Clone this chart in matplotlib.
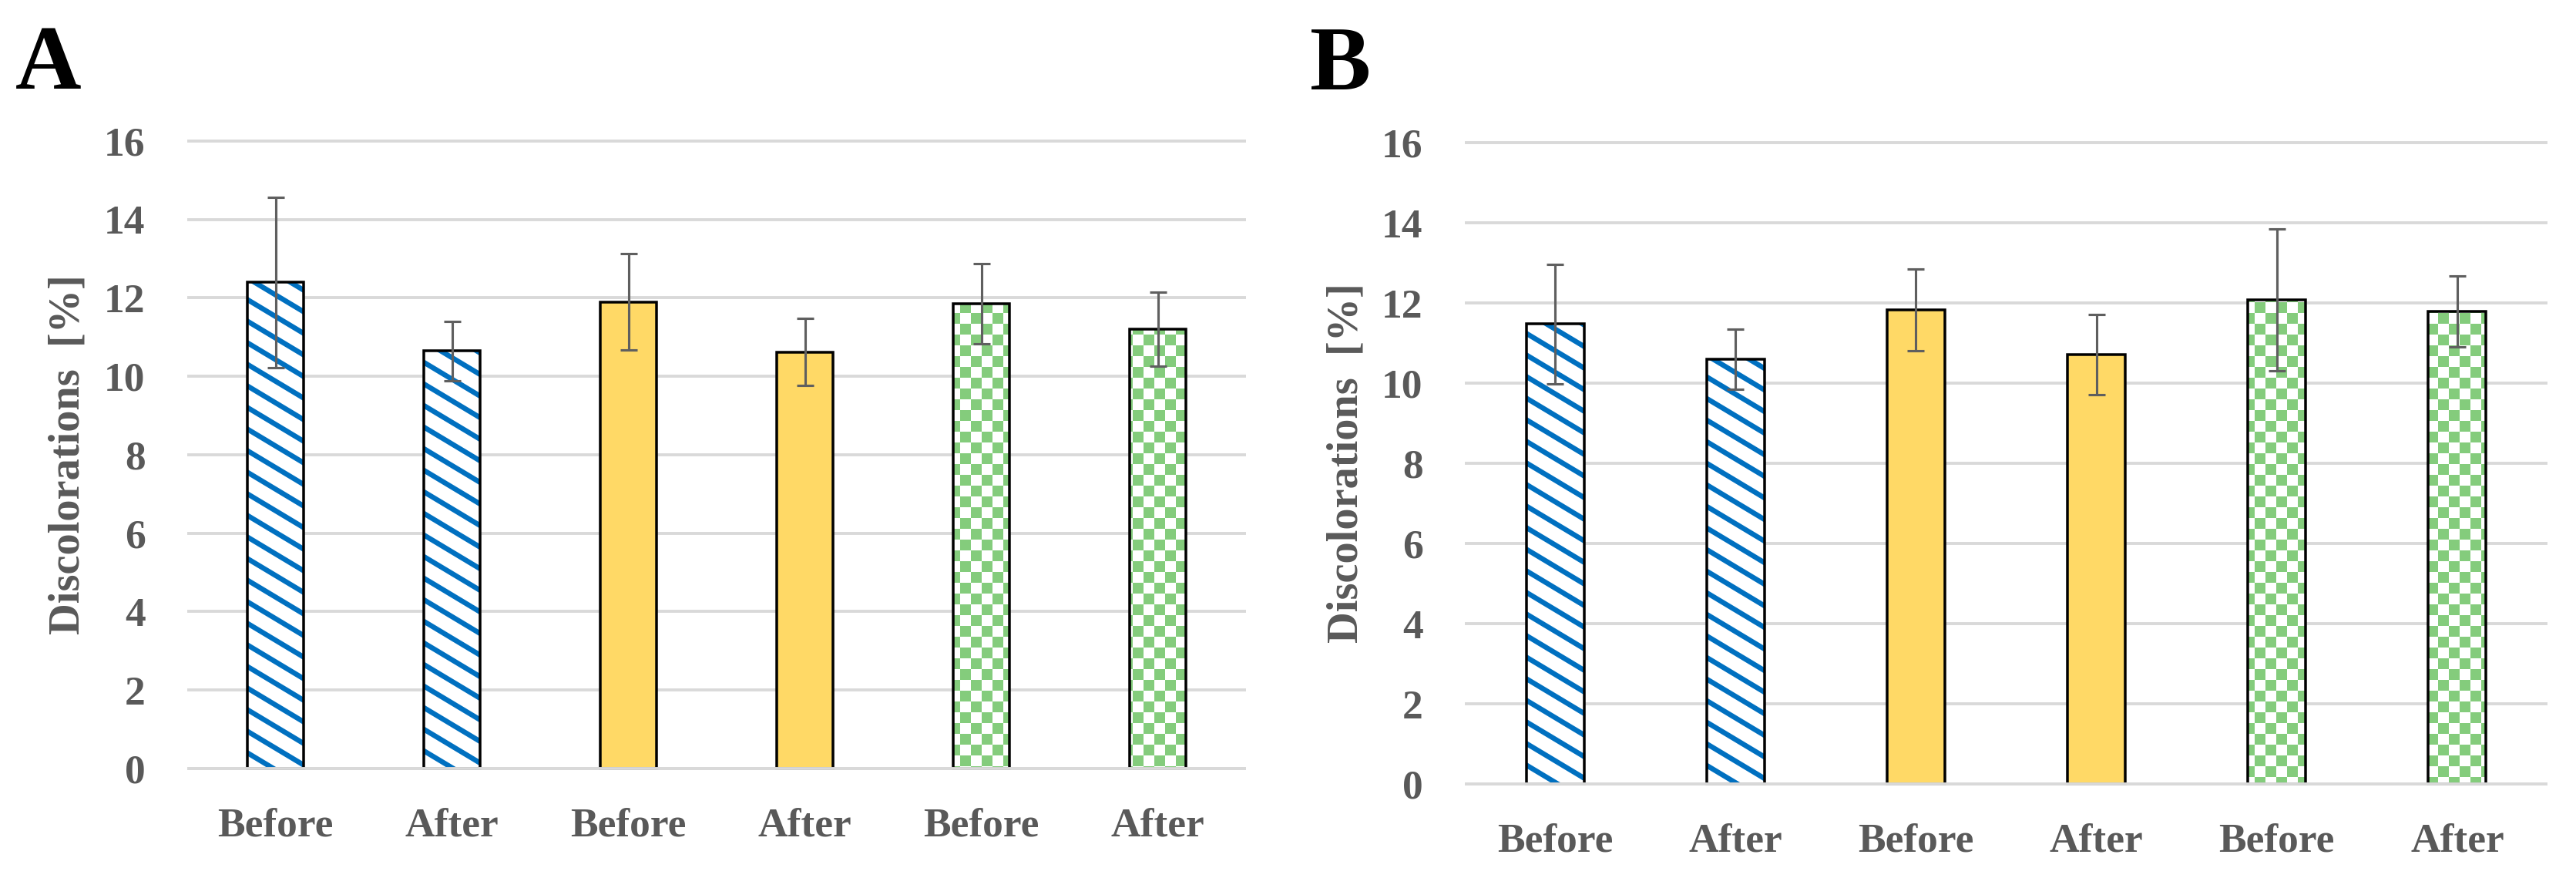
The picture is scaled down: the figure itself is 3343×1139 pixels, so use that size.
import warnings
warnings.filterwarnings("ignore")
import numpy as np
import matplotlib
matplotlib.use("Agg")
import matplotlib.pyplot as plt
import matplotlib.hatch as mhatch
from matplotlib.path import Path

# ---------------- data ----------------
categories = ["Before", "After", "Before", "After", "Before", "After"]
a_means = [12.40, 10.65, 11.90, 10.62, 11.86, 11.20]
a_errors = [2.17, 0.76, 1.23, 0.86, 1.02, 0.94]
b_means = [11.48, 10.60, 11.83, 10.72, 12.08, 11.79]
b_errors = [1.49, 0.75, 1.02, 1.00, 1.77, 0.88]
y_ticks = [0, 2, 4, 6, 8, 10, 12, 14, 16]
panel_labels = ["A", "B"]
y_label = "Discolorations  [%]"

# ---------------- styles ----------------
DPI = 140
W, H = 3343, 1139
HATCH_LW = 3.4          # points
STRIPE_ROWS = 5         # stripes per hatch tile (vertical)
STRIPE_COLS = 3         # stripes per hatch tile (horizontal)
CHECK_N = 10            # checker cells per hatch tile

BLUE = "#0070C0"
YELLOW = "#FFD966"
GREEN = "#84CC7C"
GRAY_TXT = "#595959"
GRID = "#D9D9D9"
ERR = "#5F5F5F"

bar_styles = [("S", BLUE), ("S", BLUE), (None, YELLOW), (None, YELLOW),
              ("C", GREEN), ("C", GREEN)]

plt.rcParams["font.family"] = ["Liberation Serif", "DejaVu Serif"]
plt.rcParams["font.weight"] = "bold"
plt.rcParams["axes.labelweight"] = "bold"
plt.rcParams["hatch.linewidth"] = HATCH_LW


class SlantStripeHatch(mhatch.HatchPatternBase):
    def __init__(self, hatch, density):
        if hatch is not None and "S" in hatch:
            self.ks = list(range(-1, STRIPE_ROWS + STRIPE_COLS + 2))
        else:
            self.ks = []
        self.num_vertices = 2 * len(self.ks)

    def set_vertices_and_codes(self, vertices, codes):
        s = STRIPE_COLS / STRIPE_ROWS
        x0, x1 = -0.2, 1.2
        for i, k in enumerate(self.ks):
            c = k / STRIPE_ROWS
            vertices[2 * i] = (x0, c - s * x0)
            vertices[2 * i + 1] = (x1, c - s * x1)
            codes[2 * i] = Path.MOVETO
            codes[2 * i + 1] = Path.LINETO


class CheckerHatch(mhatch.HatchPatternBase):
    def __init__(self, hatch, density):
        if hatch is not None and "C" in hatch:
            self.cells = [(i, j) for i in range(CHECK_N) for j in range(CHECK_N)
                          if (i + j) % 2 == 0]
        else:
            self.cells = []
        self.num_vertices = 5 * len(self.cells)

    def set_vertices_and_codes(self, vertices, codes):
        cell = 1.0 / CHECK_N
        inset = HATCH_LW / 144.0
        for n, (i, j) in enumerate(self.cells):
            xa, xb = i * cell + inset, (i + 1) * cell - inset
            ya, yb = j * cell + inset, (j + 1) * cell - inset
            vertices[5 * n:5 * n + 5] = [(xa, ya), (xb, ya), (xb, yb), (xa, yb), (xa, ya)]
            codes[5 * n:5 * n + 5] = [Path.MOVETO, Path.LINETO, Path.LINETO,
                                      Path.LINETO, Path.CLOSEPOLY]


mhatch._hatch_types.append(SlantStripeHatch)
mhatch._hatch_types.append(CheckerHatch)

fig = plt.figure(figsize=((W + 0.01) / DPI, (H + 0.01) / DPI), dpi=DPI)
fig.patch.set_facecolor("white")


def place(ax, left, right, y0px, y16px, ymin=-0.1, ymax=16.1):
    per = (y0px - y16px) / 16.0
    top_px = y16px - (ymax - 16) * per
    bot_px = y0px + (0 - ymin) * per
    ax.set_position([left / W, 1 - bot_px / H, (right - left) / W, (bot_px - top_px) / H])
    ax.set_ylim(ymin, ymax)


def draw_panel(ax, means, errors, label_x):
    x = np.arange(len(categories))
    width = 0.32
    for xi, m, (hatch, col) in zip(x, means, bar_styles):
        if hatch is None:
            ax.bar(xi, m, width, color=col, edgecolor=col, linewidth=0, zorder=2)
        else:
            ax.bar(xi, m, width, color="white", edgecolor=col, hatch=hatch,
                   linewidth=0, zorder=2)
    ax.bar(x, means, width, fill=False, edgecolor="black", linewidth=1.8, zorder=2.2)
    ax.axhline(0, color=GRID, linewidth=2.0, zorder=2.5)
    ax.errorbar(x, means, yerr=errors, fmt="none", ecolor=ERR, elinewidth=1.6,
                capsize=5.7, capthick=1.6, zorder=4)
    ax.set_xlim(-0.5, len(categories) - 0.5)
    ax.set_yticks(y_ticks)
    ax.set_xticks(x, categories)
    ax.yaxis.grid(True, color=GRID, linewidth=2.0)
    ax.set_axisbelow(True)
    for sp in ax.spines.values():
        sp.set_visible(False)
    ax.tick_params(axis="both", length=0, labelsize=27.5, labelcolor=GRAY_TXT)
    ax.tick_params(axis="x", pad=23.5)
    ax.tick_params(axis="y", pad=28)
    ax.set_ylabel(y_label, fontsize=29, fontweight="bold", color=GRAY_TXT,
                  ha="center", va="center")
    ax.yaxis.set_label_coords(label_x, 0.5)


ax_a = fig.add_axes([0.1, 0.1, 0.3, 0.7])
ax_b = fig.add_axes([0.6, 0.1, 0.3, 0.7])
place(ax_a, 243, 1617, 997, 183)
place(ax_b, 1901, 3306, 1017, 185)
draw_panel(ax_a, a_means, a_errors, -0.1124)
draw_panel(ax_b, b_means, b_errors, -0.1096)

fig.text(20 / W, 1 - 115 / H, panel_labels[0], fontsize=61, fontweight="bold",
         color="black", ha="left", va="baseline")
fig.text(1700 / W, 1 - 116 / H, panel_labels[1], fontsize=61, fontweight="bold",
         color="black", ha="left", va="baseline")

fig.savefig("out.png", dpi=DPI, facecolor="white")
